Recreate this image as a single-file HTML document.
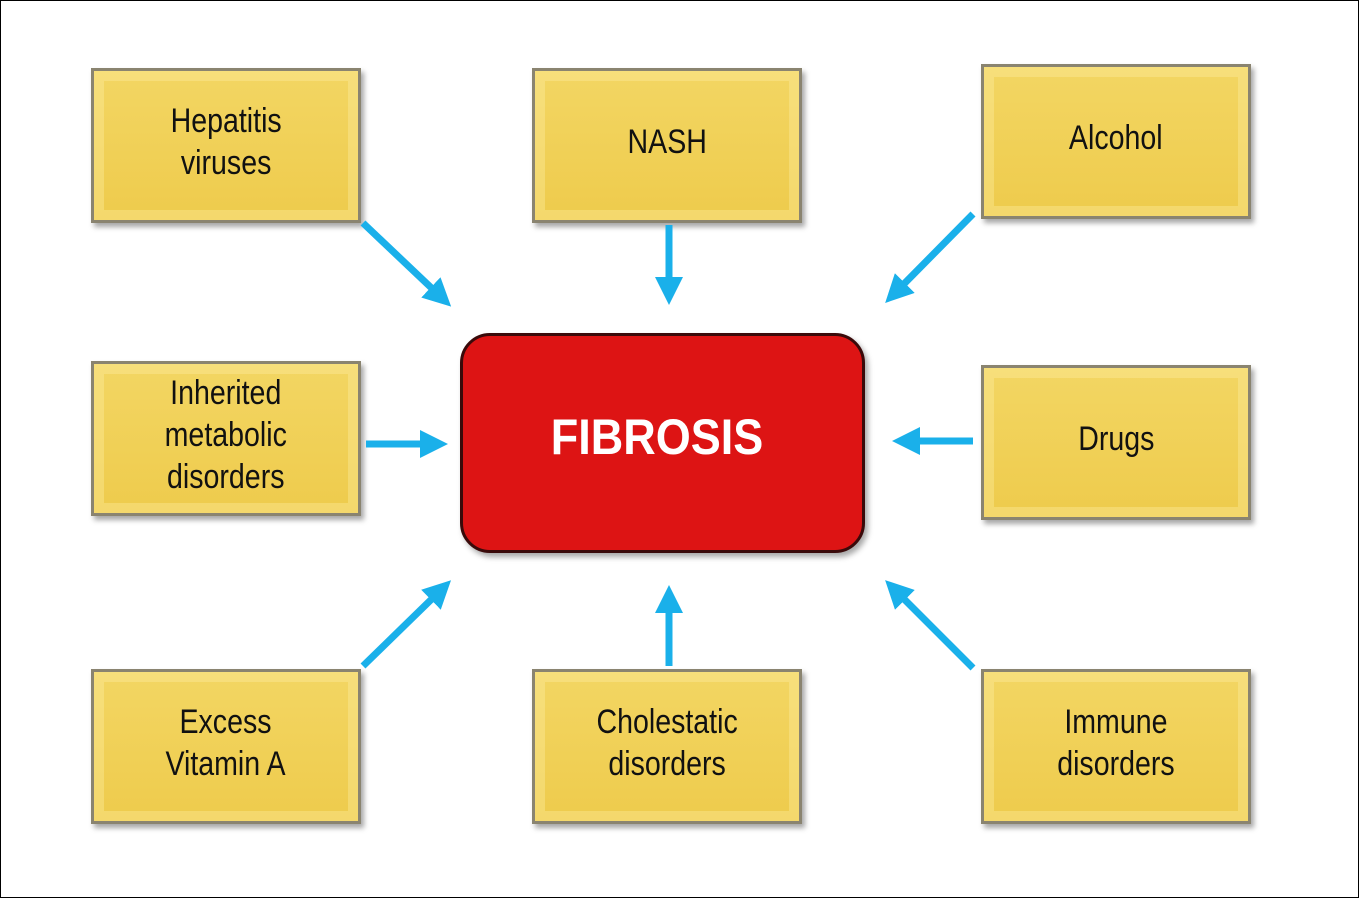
<!DOCTYPE html>
<html><head><style>
body{margin:0;background:#fff;}
.wrap{position:relative;width:1357px;height:896px;border:1px solid #000;background:#fff;overflow:hidden;}
.b{position:absolute;width:270px;height:155px;box-sizing:border-box;border:3px solid #8a8470;
background:linear-gradient(#f3d663,#eecb4c);box-shadow:3px 4px 5px rgba(0,0,0,.35), inset 0 0 0 10px rgba(255,240,170,.35);
display:flex;align-items:center;justify-content:center;text-align:center;
font-family:"Liberation Sans",sans-serif;font-size:34px;line-height:42px;color:#111;}
.b span{display:inline-block;transform:scaleX(0.84);white-space:nowrap;margin-top:-8px;}
.f{position:absolute;left:459px;top:332px;width:405px;height:220px;box-sizing:border-box;border-radius:30px;
background:#dd1414;border:3px solid #3a0a0a;box-shadow:3px 4px 6px rgba(0,0,0,.35);
display:flex;align-items:center;justify-content:center;color:#fff;font-family:"Liberation Sans",sans-serif;font-size:50px;font-weight:bold;}
.f span{display:inline-block;transform:scaleX(0.9);margin-left:-10px;margin-top:-12px;}
svg{position:absolute;left:0;top:0;}
</style></head><body><div class="wrap">
<div class="b" style="left:90px;top:67px"><span>Hepatitis<br>viruses</span></div>
<div class="b" style="left:531px;top:67px"><span>NASH</span></div>
<div class="b" style="left:980px;top:63px"><span>Alcohol</span></div>
<div class="b" style="left:90px;top:360px"><span>Inherited<br>metabolic<br>disorders</span></div>
<div class="b" style="left:980px;top:364px"><span>Drugs</span></div>
<div class="b" style="left:90px;top:668px"><span>Excess<br>Vitamin A</span></div>
<div class="b" style="left:531px;top:668px"><span>Cholestatic<br>disorders</span></div>
<div class="b" style="left:980px;top:668px"><span>Immune<br>disorders</span></div>
<div class="f"><span>FIBROSIS</span></div>
<svg width="1357" height="896">
<defs><marker id="a" markerWidth="4" markerHeight="4" refX="2" refY="2" orient="auto" markerUnits="strokeWidth"><path d="M0,0 L4,2 L0,4 z" fill="#1ab0ea"/></marker></defs>
<g stroke="#1ab0ea" stroke-width="7" marker-end="url(#a)">
<line x1="362" y1="222" x2="440" y2="296"/>
<line x1="668" y1="224" x2="668" y2="290"/>
<line x1="972" y1="213" x2="894" y2="292"/>
<line x1="365" y1="443" x2="433" y2="443"/>
<line x1="972" y1="440" x2="905" y2="440"/>
<line x1="362" y1="665" x2="440" y2="589"/>
<line x1="668" y1="665" x2="668" y2="598"/>
<line x1="972" y1="667" x2="894" y2="589"/>
</g></svg>
</div></body></html>
